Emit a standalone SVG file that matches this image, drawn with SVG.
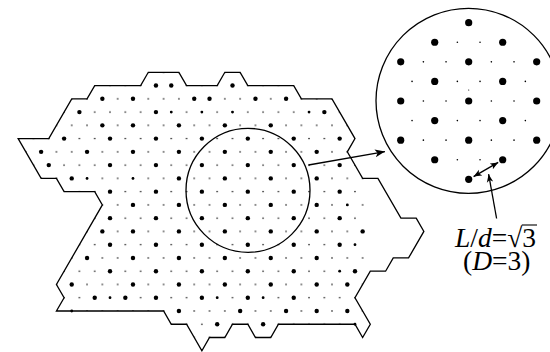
<svg xmlns="http://www.w3.org/2000/svg" width="550" height="352" viewBox="0 0 550 352">
<style>
.ol{fill:none;stroke:#000;stroke-width:1.3;stroke-linejoin:miter}
.b{fill:#000}
.ln{stroke:#000;stroke-width:1.3;fill:none}
.lbl{font-family:"Liberation Serif","Times New Roman",serif;font-size:27.5px;fill:#000}
.it{font-style:italic}
</style>
<defs>
<pattern id="lat" patternUnits="userSpaceOnUse" x="10.5" y="72.3" width="15.31" height="26.52">
<circle cx="0" cy="0" r="0.8"/><circle cx="15.31" cy="0" r="0.8"/><circle cx="0" cy="26.52" r="0.8"/><circle cx="15.31" cy="26.52" r="0.8"/><circle cx="7.655" cy="13.26" r="0.8"/>
</pattern>
<clipPath id="poly"><polygon points="94.71,85.56 140.64,85.56 148.29,72.3 178.91,72.3 186.57,85.56 217.19,85.56 224.84,72.3 240.15,72.3 247.81,85.56 293.74,85.56 301.39,98.82 332.01,98.82 354.98,138.6 347.32,151.86 362.63,178.38 377.94,178.38 400.91,218.16 416.22,218.16 423.87,231.42 408.56,257.94 393.25,257.94 385.6,271.2 370.29,271.2 354.98,297.72 370.29,324.24 362.63,337.5 354.98,324.24 278.43,324.24 270.77,337.5 255.46,337.5 247.81,324.24 232.5,324.24 224.84,337.5 209.53,337.5 201.88,350.76 186.57,324.24 171.26,324.24 163.6,310.98 56.43,310.98 64.09,297.72 56.43,284.46 102.36,204.9 94.71,191.64 64.09,191.64 56.43,178.38 41.12,178.38 18.16,138.6 48.78,138.6 71.74,98.82 87.05,98.82"/></clipPath>
<clipPath id="cutx"><rect x="0" y="0" width="364.5" height="352"/></clipPath>
<marker id="ah" viewBox="-10 -5 11 10" refX="0" refY="0" markerWidth="11" markerHeight="10" markerUnits="userSpaceOnUse" orient="auto-start-reverse"><path d="M0,0 L-10,-4 L-7.5,0 L-10,4 Z" fill="#000"/></marker>
<marker id="ahs" viewBox="-8 -4 9 8" refX="0" refY="0" markerWidth="9" markerHeight="8" markerUnits="userSpaceOnUse" orient="auto-start-reverse"><path d="M0,0 L-8,-3.2 L-6,0 L-8,3.2 Z" fill="#000"/></marker>
</defs>
<rect width="550" height="352" fill="#fff"/>

<g id="surface">
<g clip-path="url(#cutx)"><rect x="0" y="60" width="430" height="295" fill="url(#lat)" clip-path="url(#poly)"/></g>
<polygon class="ol" points="94.71,85.56 140.64,85.56 148.29,72.3 178.91,72.3 186.57,85.56 217.19,85.56 224.84,72.3 240.15,72.3 247.81,85.56 293.74,85.56 301.39,98.82 332.01,98.82 354.98,138.6 347.32,151.86 362.63,178.38 377.94,178.38 400.91,218.16 416.22,218.16 423.87,231.42 408.56,257.94 393.25,257.94 385.6,271.2 370.29,271.2 354.98,297.72 370.29,324.24 362.63,337.5 354.98,324.24 278.43,324.24 270.77,337.5 255.46,337.5 247.81,324.24 232.5,324.24 224.84,337.5 209.53,337.5 201.88,350.76 186.57,324.24 171.26,324.24 163.6,310.98 56.43,310.98 64.09,297.72 56.43,284.46 102.36,204.9 94.71,191.64 64.09,191.64 56.43,178.38 41.12,178.38 18.16,138.6 48.78,138.6 71.74,98.82 87.05,98.82"/>
<g id="big-dots" class="b">
<circle cx="155.95" cy="85.56" r="2.2"/><circle cx="171.26" cy="85.56" r="2.2"/><circle cx="232.5" cy="85.56" r="2.2"/>
<circle cx="102.36" cy="98.82" r="2.2"/><circle cx="132.98" cy="98.82" r="2.2"/><circle cx="194.22" cy="98.82" r="2.2"/><circle cx="209.53" cy="98.82" r="2.2"/><circle cx="255.46" cy="98.82" r="2.2"/><circle cx="286.08" cy="98.82" r="2.2"/>
<circle cx="79.4" cy="112.08" r="2.2"/><circle cx="155.95" cy="112.08" r="2.2"/><circle cx="324.36" cy="112.08" r="2.2"/>
<circle cx="171.26" cy="112.08" r="1.4"/><circle cx="201.88" cy="112.08" r="1.4"/><circle cx="232.5" cy="112.08" r="1.4"/><circle cx="309.05" cy="112.08" r="1.4"/>
<circle cx="102.36" cy="125.34" r="2.2"/><circle cx="132.98" cy="125.34" r="2.2"/><circle cx="178.91" cy="125.34" r="2.2"/><circle cx="224.84" cy="125.34" r="2.2"/><circle cx="270.77" cy="125.34" r="2.2"/>
<circle cx="64.09" cy="138.6" r="2.2"/><circle cx="110.02" cy="138.6" r="2.2"/><circle cx="155.95" cy="138.6" r="2.2"/><circle cx="201.88" cy="138.6" r="2.2"/><circle cx="247.81" cy="138.6" r="2.2"/><circle cx="293.74" cy="138.6" r="2.2"/><circle cx="339.67" cy="138.6" r="2.2"/>
<circle cx="41.12" cy="151.86" r="2.2"/><circle cx="87.05" cy="151.86" r="2.2"/><circle cx="132.98" cy="151.86" r="2.2"/><circle cx="178.91" cy="151.86" r="2.2"/><circle cx="224.84" cy="151.86" r="2.2"/><circle cx="270.77" cy="151.86" r="2.2"/><circle cx="316.7" cy="151.86" r="2.2"/>
<circle cx="48.78" cy="165.12" r="2.2"/><circle cx="110.02" cy="165.12" r="2.2"/><circle cx="155.95" cy="165.12" r="2.2"/><circle cx="201.88" cy="165.12" r="2.2"/><circle cx="247.81" cy="165.12" r="2.2"/><circle cx="293.74" cy="165.12" r="2.2"/><circle cx="339.67" cy="165.12" r="2.2"/>
<circle cx="71.74" cy="178.38" r="2.2"/><circle cx="178.91" cy="178.38" r="2.2"/><circle cx="224.84" cy="178.38" r="2.2"/><circle cx="270.77" cy="178.38" r="2.2"/><circle cx="316.7" cy="178.38" r="2.2"/>
<circle cx="87.05" cy="178.38" r="1.4"/><circle cx="132.98" cy="178.38" r="1.4"/>
<circle cx="110.02" cy="191.64" r="2.2"/><circle cx="155.95" cy="191.64" r="2.2"/><circle cx="201.88" cy="191.64" r="2.2"/><circle cx="247.81" cy="191.64" r="2.2"/><circle cx="293.74" cy="191.64" r="2.2"/><circle cx="339.67" cy="191.64" r="2.2"/>
<circle cx="132.98" cy="204.9" r="2.2"/><circle cx="178.91" cy="204.9" r="2.2"/><circle cx="224.84" cy="204.9" r="2.2"/><circle cx="270.77" cy="204.9" r="2.2"/><circle cx="316.7" cy="204.9" r="2.2"/><circle cx="347.32" cy="204.9" r="1.4"/>
<circle cx="110.02" cy="218.16" r="2.2"/><circle cx="155.95" cy="218.16" r="2.2"/><circle cx="201.88" cy="218.16" r="2.2"/><circle cx="247.81" cy="218.16" r="2.2"/><circle cx="293.74" cy="218.16" r="2.2"/><circle cx="339.67" cy="218.16" r="2.2"/>
<circle cx="102.36" cy="231.42" r="2.2"/><circle cx="132.98" cy="231.42" r="2.2"/><circle cx="178.91" cy="231.42" r="2.2"/><circle cx="224.84" cy="231.42" r="2.2"/><circle cx="270.77" cy="231.42" r="2.2"/><circle cx="316.7" cy="231.42" r="2.2"/><circle cx="362.63" cy="231.42" r="2.2"/>
<circle cx="110.02" cy="244.68" r="2.2"/><circle cx="155.95" cy="244.68" r="2.2"/><circle cx="201.88" cy="244.68" r="2.2"/><circle cx="247.81" cy="244.68" r="2.2"/><circle cx="293.74" cy="244.68" r="2.2"/><circle cx="339.67" cy="244.68" r="2.2"/><circle cx="354.98" cy="244.68" r="1.4"/>
<circle cx="87.05" cy="257.94" r="2.2"/><circle cx="132.98" cy="257.94" r="2.2"/><circle cx="178.91" cy="257.94" r="2.2"/><circle cx="224.84" cy="257.94" r="2.2"/><circle cx="270.77" cy="257.94" r="2.2"/><circle cx="316.7" cy="257.94" r="2.2"/>
<circle cx="110.02" cy="271.2" r="2.2"/><circle cx="155.95" cy="271.2" r="2.2"/><circle cx="201.88" cy="271.2" r="2.2"/><circle cx="247.81" cy="271.2" r="2.2"/><circle cx="293.74" cy="271.2" r="2.2"/><circle cx="354.98" cy="271.2" r="2.2"/><circle cx="339.67" cy="271.2" r="1.4"/>
<circle cx="71.74" cy="284.46" r="2.2"/><circle cx="132.98" cy="284.46" r="2.2"/><circle cx="178.91" cy="284.46" r="2.2"/><circle cx="224.84" cy="284.46" r="2.2"/><circle cx="270.77" cy="284.46" r="2.2"/><circle cx="316.7" cy="284.46" r="2.2"/><circle cx="347.32" cy="284.46" r="2.2"/>
<circle cx="94.71" cy="297.72" r="2.2"/><circle cx="125.33" cy="297.72" r="2.2"/><circle cx="155.95" cy="297.72" r="2.2"/><circle cx="201.88" cy="297.72" r="2.2"/><circle cx="247.81" cy="297.72" r="2.2"/><circle cx="293.74" cy="297.72" r="2.2"/>
<circle cx="110.02" cy="297.72" r="1.4"/><circle cx="217.19" cy="297.72" r="1.4"/><circle cx="263.12" cy="297.72" r="1.4"/>
<circle cx="178.91" cy="310.98" r="2.2"/><circle cx="240.15" cy="310.98" r="2.2"/><circle cx="286.08" cy="310.98" r="2.2"/><circle cx="316.7" cy="310.98" r="2.2"/><circle cx="347.32" cy="310.98" r="2.2"/><circle cx="71.74" cy="310.98" r="1.4"/>
<circle cx="217.19" cy="324.24" r="2.2"/><circle cx="263.12" cy="324.24" r="2.2"/><circle cx="354.98" cy="324.24" r="1.4"/>
</g>
</g>

<circle id="selection" cx="248" cy="190.3" r="62" class="ln"/>

<g id="inset">
<circle cx="468.5" cy="100.8" r="92.5" class="ln"/>
<g class="b">
<circle cx="468.7" cy="22.68" r="3.6"/>
<circle cx="434.71" cy="42.26" r="3.6"/><circle cx="457.37" cy="42.26" r="0.8"/><circle cx="480.03" cy="42.26" r="0.8"/><circle cx="502.69" cy="42.26" r="3.6"/>
<circle cx="400.72" cy="61.84" r="3.6"/><circle cx="423.38" cy="61.84" r="0.8"/><circle cx="446.04" cy="61.84" r="0.8"/><circle cx="468.7" cy="61.84" r="3.6"/><circle cx="491.36" cy="61.84" r="0.8"/><circle cx="514.02" cy="61.84" r="0.8"/><circle cx="536.68" cy="61.84" r="3.6"/>
<circle cx="412.05" cy="81.42" r="0.8"/><circle cx="434.71" cy="81.42" r="3.6"/><circle cx="457.37" cy="81.42" r="0.8"/><circle cx="480.03" cy="81.42" r="0.8"/><circle cx="502.69" cy="81.42" r="3.6"/><circle cx="525.35" cy="81.42" r="0.8"/>
<circle cx="468.7" cy="90" r="0.6"/>
<circle cx="400.72" cy="101" r="3.6"/><circle cx="423.38" cy="101" r="0.8"/><circle cx="446.04" cy="101" r="0.8"/><circle cx="468.7" cy="101" r="3.6"/><circle cx="491.36" cy="101" r="0.8"/><circle cx="514.02" cy="101" r="0.8"/><circle cx="536.68" cy="101" r="3.6"/>
<circle cx="412.05" cy="120.58" r="0.8"/><circle cx="434.71" cy="120.58" r="3.6"/><circle cx="457.37" cy="120.58" r="0.8"/><circle cx="480.03" cy="120.58" r="0.8"/><circle cx="502.69" cy="120.58" r="3.6"/><circle cx="525.35" cy="120.58" r="0.8"/>
<circle cx="400.72" cy="140.16" r="3.6"/><circle cx="423.38" cy="140.16" r="0.8"/><circle cx="446.04" cy="140.16" r="0.8"/><circle cx="468.7" cy="140.16" r="3.6"/><circle cx="491.36" cy="140.16" r="0.8"/><circle cx="514.02" cy="140.16" r="0.8"/><circle cx="536.68" cy="140.16" r="3.6"/>
<circle cx="434.71" cy="159.74" r="3.6"/><circle cx="457.37" cy="159.74" r="0.8"/><circle cx="480.03" cy="159.74" r="0.8"/><circle cx="502.69" cy="159.74" r="3.6"/>
<circle cx="468.7" cy="179.32" r="3.6"/>
</g>
</g>

<g id="connectors">
<line x1="308.5" y1="165" x2="385" y2="151.6" class="ln" stroke-width="1.4" marker-end="url(#ah)"/>
<line x1="473.6" y1="176.6" x2="498.2" y2="162.4" class="ln" stroke-width="1.1" marker-start="url(#ahs)" marker-end="url(#ahs)"/>
<line x1="496.6" y1="218.5" x2="488.6" y2="174.2" class="ln" stroke-width="1.2" marker-end="url(#ahs)"/>
</g>

<g id="label">
<text class="lbl" x="455" y="246.5"><tspan class="it">L</tspan>/<tspan class="it">d</tspan>=√3</text>
<line x1="521.8" y1="225" x2="537" y2="225" stroke="#000" stroke-width="1.1"/>
<text class="lbl" x="463" y="270"><tspan>(</tspan><tspan class="it">D</tspan>=3)</text>
</g>
</svg>
